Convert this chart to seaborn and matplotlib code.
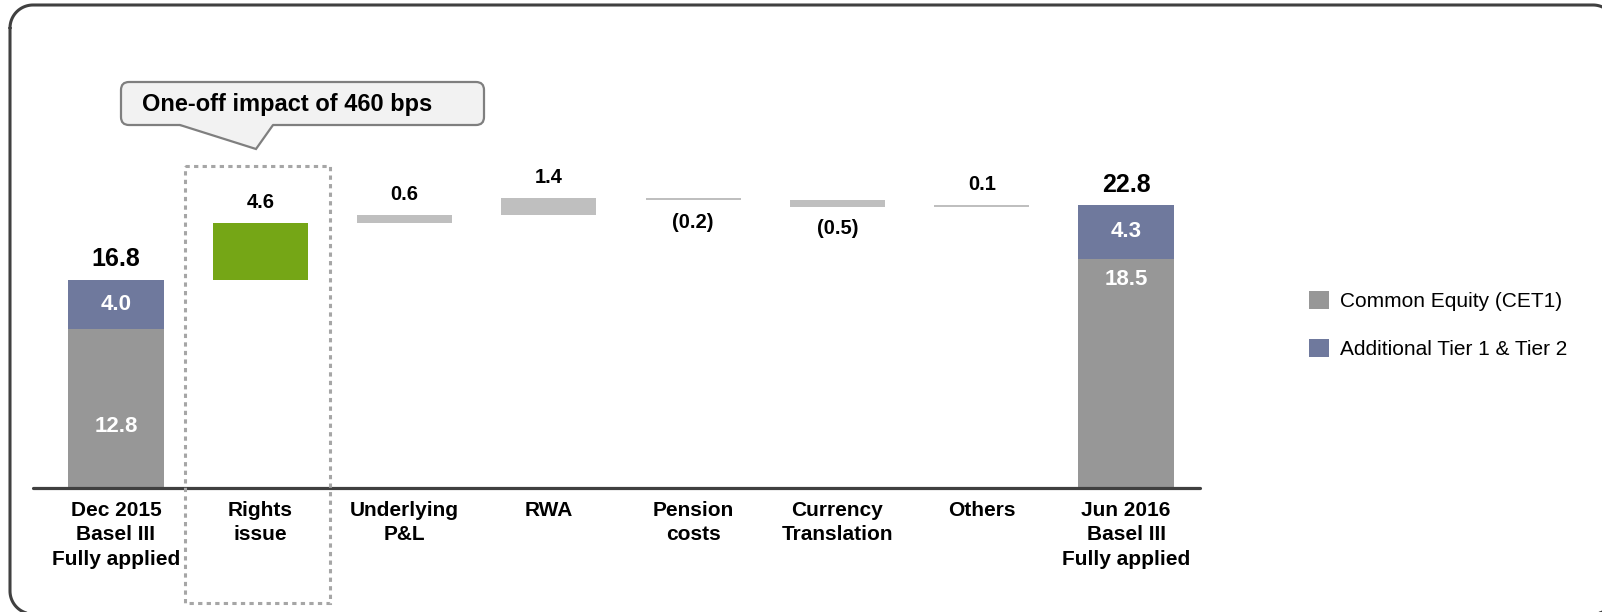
import numpy as np
import pandas as pd
import seaborn as sns
import matplotlib
matplotlib.use("Agg")
import matplotlib.pyplot as plt
from matplotlib.patches import FancyBboxPatch, Rectangle, Polygon
from matplotlib.lines import Line2D
from matplotlib.transforms import Affine2D

# ---- data ----
categories = [
    "Dec 2015\nBasel III\nFully applied",
    "Rights\nissue",
    "Underlying\nP&L",
    "RWA",
    "Pension\ncosts",
    "Currency\nTranslation",
    "Others",
    "Jun 2016\nBasel III\nFully applied",
]
cet1 = [12.8, 18.5]          # opening / closing common equity
at1_t2 = [4.0, 4.3]          # opening / closing AT1 & Tier 2
movements = [4.6, 0.6, 1.4, -0.2, -0.5, 0.1]   # rights issue .. others
legend_labels = ["Common Equity (CET1)", "Additional Tier 1 & Tier 2"]
callout_text = "One-off impact of 460 bps"

# ---- style ----
C_CET1 = "#979797"
C_AT1 = "#6f799d"
C_RIGHTS = "#75a616"
C_MOVE = "#bfbfbf"
C_DARK = "#404040"

sns.set_theme(style="white")
plt.rcParams["font.family"] = ["Liberation Sans", "DejaVu Sans"]

W, H = 1602, 612
fig = plt.figure(figsize=(W / 100, H / 100), dpi=100)
fig.patch.set_facecolor("white")

# pixel coordinates measured from the top-left corner of the figure
pix = Affine2D().scale(1 / 100, -1 / 100).translate(0, H / 100) + fig.dpi_scale_trans

def fx(px):
    return px / W

def fy(py):
    return 1 - py / H

AX_L, AX_R, AX_T, AX_B = 33, 1200, 60, 488
ax = fig.add_axes([fx(AX_L), fy(AX_B), (AX_R - AX_L) / W, (AX_B - AX_T) / H])

# ---- tables for the bars ----
totals = pd.DataFrame({
    "category": [categories[0], categories[-1]],
    "cet1": cet1,
    "at1": at1_t2,
})
totals["total"] = totals["cet1"] + totals["at1"]

level = totals["total"].iloc[0]
bottoms, heights = [], []
for m in movements:
    bottoms.append(level if m >= 0 else level + m)
    heights.append(abs(m))
    level += m
steps = pd.DataFrame({
    "category": categories[1:-1],
    "value": movements,
    "bottom": bottoms,
    "height": heights,
})

BW = 0.66
common = dict(order=categories, width=BW, errorbar=None, saturation=1, ax=ax)

sns.barplot(data=totals, x="category", y="cet1", color=C_CET1, **common)
sns.barplot(data=totals, x="category", y="at1", color=C_AT1,
            bottom=totals["cet1"].to_numpy(), **common)
rights = steps.iloc[:1]
others = steps.iloc[1:]
sns.barplot(data=rights, x="category", y="height", color=C_RIGHTS,
            bottom=rights["bottom"].to_numpy(), **common)
sns.barplot(data=others, x="category", y="height", color=C_MOVE,
            bottom=others["bottom"].to_numpy(), **common)

for p in ax.patches:
    p.set_linewidth(0)

# ---- axes ----
spacing_px = 144.3
ax.set_xlim(-(116 - AX_L) / spacing_px, 7 + (AX_R - 1126) / spacing_px)
ax.set_ylim(0, (AX_B - AX_T) / 12.4)
ax.axhline(0, color=C_DARK, lw=2.3, clip_on=False, zorder=5)
for s in ax.spines.values():
    s.set_visible(False)
ax.set_yticks([])
ax.set_xlabel("")
ax.set_ylabel("")
ax.set_xticks(range(len(categories)))
ax.set_xticklabels(categories, fontsize=15, fontweight="bold", color="black",
                   linespacing=1.38)
ax.tick_params(axis="x", length=0, pad=9)

# ---- value labels ----
idx = {c: i for i, c in enumerate(categories)}
cet1_label_frac = [0.39, 0.91]
for k, row in totals.iterrows():
    i = idx[row["category"]]
    ax.annotate(f"{row['total']:.1f}", (i, row["total"]), xytext=(0, 6),
                textcoords="offset points", ha="center", va="bottom",
                fontsize=18, fontweight="bold", color="black")
    ax.text(i, row["cet1"] + row["at1"] / 2, f"{row['at1']:.1f}", ha="center",
            va="center", fontsize=16, fontweight="bold", color="white")
    ax.text(i, row["cet1"] * cet1_label_frac[k], f"{row['cet1']:.1f}", ha="center",
            va="center", fontsize=16, fontweight="bold", color="white")

for _, row in steps.iterrows():
    i = idx[row["category"]]
    v = row["value"]
    if v >= 0:
        ax.annotate(f"{v:.1f}", (i, row["bottom"] + row["height"]), xytext=(0, 8),
                    textcoords="offset points", ha="center", va="bottom",
                    fontsize=14.5, fontweight="bold", color="black")
    else:
        ax.annotate(f"({abs(v):.1f})", (i, row["bottom"]), xytext=(0, -9),
                    textcoords="offset points", ha="center", va="top",
                    fontsize=14.5, fontweight="bold", color="black")

# ---- legend ----
handles = [Rectangle((0, 0), 1, 1, facecolor=C_CET1, edgecolor="none"),
           Rectangle((0, 0), 1, 1, facecolor=C_AT1, edgecolor="none")]
fig.legend(handles, legend_labels, loc="center left",
           bbox_to_anchor=(fx(1290), fy(325)), frameon=False, fontsize=15,
           handlelength=0.95, handleheight=0.95, handletextpad=0.55,
           labelspacing=1.3, borderpad=0.4, labelcolor="black")

# ---- dotted box around the rights issue ----
fig.add_artist(Rectangle((185, 166), 145, 437, transform=pix, fill=False,
                         edgecolor="#a6a6a6", lw=2.2, linestyle=(0, (1.4, 1.4))))

# ---- callout ----
fig.add_artist(FancyBboxPatch((121, 82), 363, 43, transform=pix,
                              boxstyle="round,pad=0,rounding_size=8",
                              facecolor="#f2f2f2", edgecolor="#7f7f7f", lw=1.6))
fig.add_artist(Polygon([(180, 123), (180, 125), (256, 149), (273, 125), (273, 123)],
                       closed=True, transform=pix, facecolor="#f2f2f2",
                       edgecolor="none"))
fig.add_artist(Line2D([180, 256, 273], [125, 149, 125], transform=pix,
                      color="#7f7f7f", lw=1.6, solid_joinstyle="miter"))
fig.text(fx(142), fy(104), callout_text, ha="left", va="center",
         fontsize=17, fontweight="bold", color="black")

# ---- outer frame: rounded rectangle whose right and bottom run off the page ----
fx0, fy0, fx1, fy1, rad = 10, 5, 1616, 614, 23
corners = [((fx0 + rad, fy0 + rad), 180, 270),
           ((fx1 - rad, fy0 + rad), 270, 360),
           ((fx1 - rad, fy1 - rad), 0, 90),
           ((fx0 + rad, fy1 - rad), 90, 180)]
fxs, fys = [], []
for (cx, cy), a0, a1 in corners:
    t = np.radians(np.linspace(a0, a1, 24))
    fxs.extend(cx + rad * np.cos(t))
    fys.extend(cy + rad * np.sin(t))
fxs.append(fxs[0])
fys.append(fys[0])
fig.add_artist(Line2D(fxs, fys, transform=pix, color=C_DARK, lw=2.2,
                      solid_joinstyle="round"))

fig.savefig("out.png", dpi=100, facecolor="white")
